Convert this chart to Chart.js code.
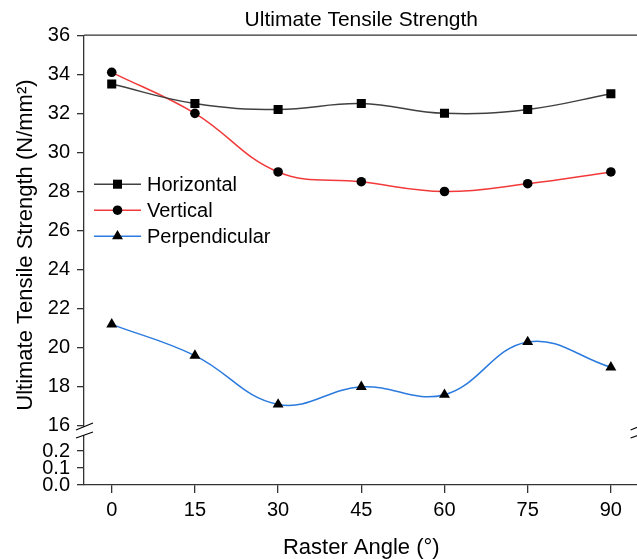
<!DOCTYPE html>
<html>
<head>
<meta charset="utf-8">
<script src="https://cdn.jsdelivr.net/npm/chart.js@4.4.0/dist/chart.umd.min.js"></script>
<style>
  html, body { margin: 0; padding: 0; background: #fff; overflow: hidden; }
  #wrap { width: 645px; height: 559px; }
</style>
</head>
<body>
<div id="wrap"><canvas id="utsChart"></canvas></div>
<script>
// raster angle (deg) on x, strength in N/mm2
var angles = [0, 15, 30, 45, 60, 75, 90];
var horizontal = [33.5, 32.5, 32.2, 32.5, 32.0, 32.2, 33.0];
var vertical = [34.1, 32.0, 29.0, 28.5, 28.0, 28.4, 29.0];
var perpendicular = [21.2, 19.6, 17.1, 18.0, 17.6, 20.3, 19.0];

var xTicks = [0, 15, 30, 45, 60, 75, 90];
var yTicksUpper = [16, 18, 20, 22, 24, 26, 28, 30, 32, 34, 36];
var yTicksLower = [0, 0.1, 0.2];

var FONT = '"Liberation Sans", Arial, sans-serif';
var AXIS = '#333';

Chart.defaults.font.family = FONT;
Chart.defaults.color = '#000';

function toXY(ys) {
    return angles.map(function (a, i) { return { x: a, y: ys[i] }; });
}

function fixTicks(list) {
    return function (scale) {
        scale.ticks = list.map(function (v) { return { value: v }; });
    };
}

// legend drawn inside the plot, line + marker like the original
var insideLegend = {
    id: 'insideLegend',
    afterDatasetsDraw: function (chart) {
        var ctx = chart.ctx, area = chart.chartArea;
        ctx.save();
        ctx.font = '20px ' + FONT;
        ctx.textBaseline = 'middle';
        chart.data.datasets.forEach(function (ds, i) {
            var y = area.top + 149 + i * 26;
            var x0 = area.left + 10;
            ctx.strokeStyle = ds.borderColor;
            ctx.lineWidth = ds.borderWidth;
            ctx.beginPath();
            ctx.moveTo(x0, y);
            ctx.lineTo(x0 + 47, y);
            ctx.stroke();
            ctx.fillStyle = '#000';
            Chart.helpers.drawPoint(ctx, {
                pointStyle: ds.pointStyle, radius: ds.pointRadius, borderWidth: 0, rotation: 0
            }, x0 + 23.5, y);
            ctx.fillStyle = '#000';
            ctx.fillText(ds.label, x0 + 53, y + 1);
        });
        ctx.restore();
    }
};

// top frame line and the axis break marks
var frameAndBreak = {
    id: 'frameAndBreak',
    afterDraw: function (chart) {
        var ctx = chart.ctx, area = chart.chartArea;
        var b = chart.scales.y.bottom;
        ctx.save();
        ctx.strokeStyle = AXIS;
        ctx.lineWidth = 1.3;
        ctx.beginPath();
        ctx.moveTo(area.left, area.top);
        ctx.lineTo(area.right, area.top);
        ctx.moveTo(area.right, area.top);
        ctx.lineTo(area.right, area.bottom);
        ctx.stroke();
        [area.left, area.right].forEach(function (x) {
            ctx.fillStyle = '#fff';
            ctx.beginPath();
            ctx.moveTo(x - 8, b - 1);
            ctx.lineTo(x + 9, b - 8);
            ctx.lineTo(x + 9, b + 1);
            ctx.lineTo(x - 8, b + 7);
            ctx.closePath();
            ctx.fill();
            ctx.strokeStyle = '#000';
            ctx.lineWidth = 1.1;
            ctx.beginPath();
            ctx.moveTo(x - 8, b - 1);
            ctx.lineTo(x + 9, b - 8);
            ctx.moveTo(x - 8, b + 7);
            ctx.lineTo(x + 9, b + 1);
            ctx.stroke();
        });
        ctx.restore();
    },
    afterLayout: function (chart) {
        // centre the y title a bit higher, like the original
        var t = chart.scales.yt;
        t.bottom = chart.chartArea.bottom - 30;
    }
};

var ctx = document.getElementById('utsChart').getContext('2d');
var chart = new Chart(ctx, {
    type: 'line',
    data: {
        datasets: [{
            label: 'Horizontal',
            data: toXY(horizontal),
            borderColor: '#404040',
            backgroundColor: '#000',
            borderWidth: 1.5,
            pointStyle: 'rect',
            pointRadius: 6.4,
            pointBorderWidth: 0,
            pointBackgroundColor: '#000',
            tension: 0.4,
            yAxisID: 'y'
        }, {
            label: 'Vertical',
            data: toXY(vertical),
            borderColor: '#f23a3a',
            backgroundColor: '#000',
            borderWidth: 1.5,
            pointStyle: 'circle',
            pointRadius: 4.8,
            pointBorderWidth: 0,
            pointBackgroundColor: '#000',
            tension: 0.4,
            yAxisID: 'y'
        }, {
            label: 'Perpendicular',
            data: toXY(perpendicular),
            borderColor: '#2b7bdf',
            backgroundColor: '#000',
            borderWidth: 1.5,
            pointStyle: 'triangle',
            pointRadius: 6.3,
            pointBorderWidth: 0,
            pointBackgroundColor: '#000',
            tension: 0.4,
            yAxisID: 'y'
        }]
    },
    options: {
        responsive: true,
        maintainAspectRatio: false,
        animation: false,
        layout: { padding: { left: 0, right: 3, top: 0, bottom: 0 } },
        plugins: {
            legend: { display: false },
            tooltip: { enabled: false },
            title: {
                display: true,
                text: 'Ultimate Tensile Strength',
                fullSize: false,
                color: '#000',
                font: { size: 21, weight: 'normal' },
                padding: { top: 8, bottom: 2 }
            }
        },
        scales: {
            x: {
                type: 'linear',
                position: 'bottom',
                min: -5,
                max: 95,
                afterBuildTicks: fixTicks(xTicks),
                afterFit: function (s) { s.height = 74; },
                grid: { drawOnChartArea: false, drawTicks: true, tickLength: 8, color: AXIS, lineWidth: 1.3 },
                border: { display: true, color: AXIS, width: 1.3 },
                ticks: { font: { size: 20 }, color: '#000', padding: 5, autoSkip: false, maxRotation: 0 },
                title: {
                    display: true,
                    text: 'Raster Angle (°)',
                    font: { size: 22, lineHeight: 1 },
                    color: '#000',
                    padding: { top: 0, bottom: 0 }
                }
            },
            // lower part of the broken axis (listed first so it sits at the bottom)
            y2: {
                type: 'linear',
                position: 'left',
                stack: 'uts',
                stackWeight: 54,
                min: 0,
                max: 0.318,
                afterBuildTicks: fixTicks(yTicksLower),
                afterFit: function (s) { s.width = 48; },
                grid: { drawOnChartArea: false, drawTicks: true, tickLength: 7, color: AXIS, lineWidth: 1.3 },
                border: { display: true, color: AXIS, width: 1.3 },
                ticks: {
                    font: { size: 20, lineHeight: 0.85 }, color: '#000', padding: 7, autoSkip: false,
                    callback: function (v) { return v.toFixed(1); }
                }
            },
            y: {
                type: 'linear',
                position: 'left',
                stack: 'uts',
                stackWeight: 396,
                min: 15.74,
                max: 36,
                afterBuildTicks: fixTicks(yTicksUpper),
                afterFit: function (s) { s.width = 48; },
                grid: { drawOnChartArea: false, drawTicks: true, tickLength: 7, color: AXIS, lineWidth: 1.3 },
                border: { display: true, color: AXIS, width: 1.3 },
                ticks: { font: { size: 20 }, color: '#000', padding: 7, autoSkip: false }
            },
            // carries only the y title, spanning both parts
            yt: {
                type: 'linear',
                position: 'left',
                weight: 1,
                min: 0,
                max: 1,
                afterFit: function (s) { s.width = 36; },
                grid: { display: false },
                border: { display: false },
                ticks: { display: false },
                title: {
                    display: true,
                    text: 'Ultimate Tensile Strength (N/mm²)',
                    font: { size: 22 },
                    color: '#000',
                    padding: { top: 13, bottom: 0 }
                }
            }
        }
    },
    plugins: [insideLegend, frameAndBreak]
});
</script>
</body>
</html>
